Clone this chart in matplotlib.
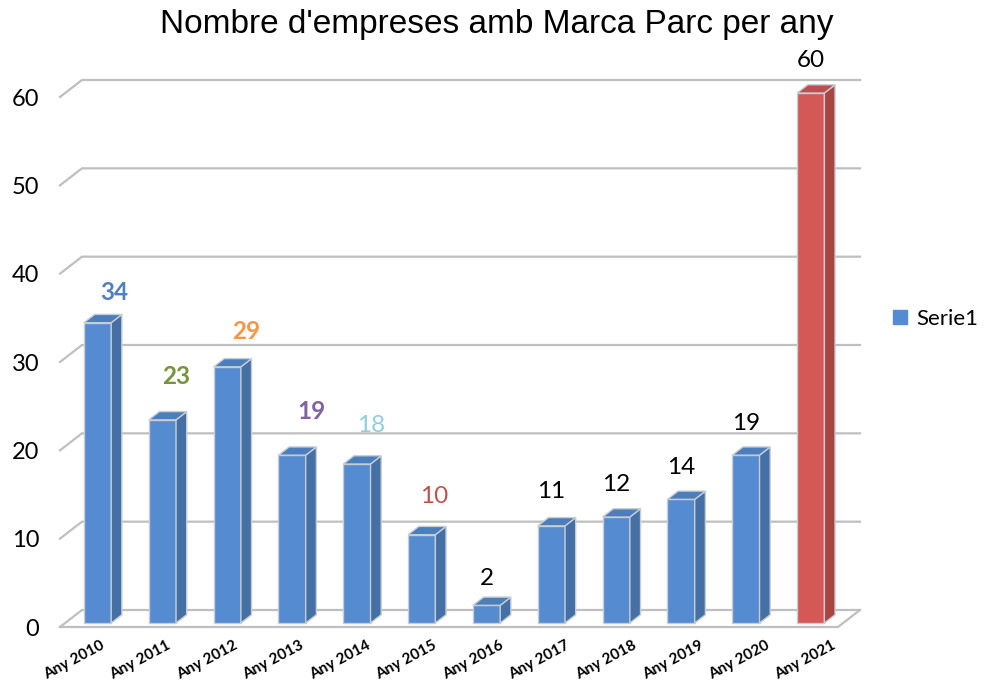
import matplotlib.pyplot as plt
from matplotlib.patches import Polygon
from matplotlib.lines import Line2D
import numpy as np

years = ['Any 2010', 'Any 2011', 'Any 2012', 'Any 2013', 'Any 2014', 'Any 2015',
         'Any 2016', 'Any 2017', 'Any 2018', 'Any 2019', 'Any 2020', 'Any 2021']
empreses = [34, 23, 29, 19, 18, 10, 2, 11, 12, 14, 19, 60]
y_ticks = [0, 10, 20, 30, 40, 50, 60]

# label look: colour, weight and nudge (pixels) for each value label
label_colors = ['#4F81BD', '#77933C', '#F79646', '#8064A2', '#93CDDD', '#C0504D',
                'black', 'black', 'black', 'black', 'black', 'black']
label_bold = [True, True, True, True, False, False,
              False, False, False, False, False, False]
label_dx = [17, 14, 19, 19, 14, 12, 0, 0, 0, 0, 0, 0]
label_dy = [30, 43, 35, 44, 39, 38, 27, 34, 33, 32, 32, 33]

plt.rcParams['font.family'] = ['Lato', 'DejaVu Sans']

fig = plt.figure(figsize=(9.84, 6.86), dpi=100)
W, H = 984, 686
ax = fig.add_axes([60 / W, (H - 627) / H, 800 / W, 547 / H])

n = len(years)
# oblique projection of the depth axis (data units for full depth)
ox = 22 / 64.83
oy = 17 / 8.833
ax.set_xlim(0, n + ox)
ax.set_ylim(0, 60 + oy)
for s in ax.spines.values():
    s.set_visible(False)

grid_c = '#BFBFBF'
# back wall grid + left wall diagonals
for v in y_ticks:
    ax.plot([0, ox, n + ox], [v, v + oy, v + oy], color=grid_c, lw=1.6,
            clip_on=False, zorder=1)
# floor outline
ax.plot([0, n, n + ox], [0, 0, oy], color=grid_c, lw=1.6, clip_on=False, zorder=1)

# bars
d0, d1 = 0.235, 0.72
bw = 0.42
face_blue = ('#558BD0', '#4A7EBD', '#4470A6')
face_red = ('#D35856', '#BE4E4C', '#A84543')
for i, v in enumerate(empreses):
    front, top, side = face_red if i == n - 1 else face_blue
    x0 = i + 0.5 - bw / 2 + d0 * ox
    x1 = x0 + bw
    yb = d0 * oy
    yt = v + d0 * oy
    dx = (d1 - d0) * ox
    dy = (d1 - d0) * oy
    ax.bar(x0, v, width=bw, bottom=yb, align='edge', color=front,
           edgecolor='#C8CDD3', lw=1.0, zorder=3)
    ax.add_patch(Polygon([(x1, yb), (x1 + dx, yb + dy), (x1 + dx, yt + dy), (x1, yt)],
                         closed=True, facecolor=side, edgecolor='#C8CDD3', lw=1.0, zorder=3))
    ax.add_patch(Polygon([(x0, yt), (x1, yt), (x1 + dx, yt + dy), (x0 + dx, yt + dy)],
                         closed=True, facecolor=top, edgecolor='#C8CDD3', lw=1.0, zorder=3))
    ax.annotate(str(v), xy=(i + 0.5 + d0 * ox, yt), xytext=(label_dx[i] * 0.72, label_dy[i] * 0.72),
                textcoords='offset points', ha='center', va='center', fontsize=17.5,
                color=label_colors[i], fontweight='bold' if label_bold[i] else 'normal',
                zorder=5)

# axis labels
ax.set_yticks(y_ticks)
ax.set_yticklabels([str(t) for t in y_ticks], fontsize=17)
ax.tick_params(axis='y', length=0, pad=15)
ax.set_xticks(np.arange(n) * 1.026 + 0.62)
ax.set_xticklabels(years, rotation=28, ha='right', rotation_mode='anchor',
                   fontsize=11, fontweight='bold')
ax.tick_params(axis='x', length=0, pad=8)

fig.text(497 / W, 1 - 24 / H, "Nombre d'empreses amb Marca Parc per any",
         ha='center', va='center', fontsize=24,
         family=['Liberation Sans', 'DejaVu Sans'])

handle = Line2D([], [], marker='s', linestyle='none', markersize=10,
                markerfacecolor='#558BD0', markeredgecolor='#558BD0')
fig.legend([handle], ['Serie1'], loc='center left', bbox_to_anchor=(890 / W, 1 - 319 / H),
           frameon=False, fontsize=16, handlelength=0.9, handletextpad=0.3,
           borderaxespad=0, borderpad=0)

fig.savefig('out.png', dpi=100)
